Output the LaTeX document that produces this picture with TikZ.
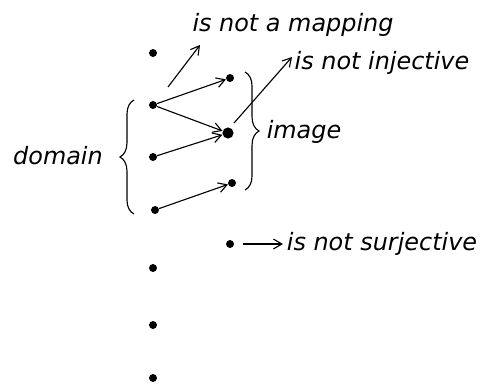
\documentclass[tikz,border=0pt]{standalone}
\usepackage{fontspec}
\setmainfont{DejaVu Sans}
\usetikzlibrary{arrows.meta, decorations.pathreplacing}
\tikzset{
    pt/.style={circle, fill, inner sep=2pt},
    bigpt/.style={circle, fill, inner sep=2.8pt},
    maparrow/.style={-{Straight Barb[length=6pt, width=7pt]}, thick},
    curly/.style={decorate, decoration={brace, amplitude=10pt}, thick},
    hand/.style={font=\fontsize{17}{20}\selectfont\itshape, inner sep=0pt},
}
\begin{document}
\begin{tikzpicture}[x=0.025cm, y=-0.025cm]
    \useasboundingbox (0,0) rectangle (484,389);

    % left column
    \node[pt] (top) at (153,53) {};
    \node[pt] (d1) at (153,105) {};
    \node[pt] (d2) at (153,157) {};
    \node[pt] (d3) at (155,210) {};
    \node[pt] (e1) at (153,268) {};
    \node[pt] (e2) at (153,325) {};
    \node[pt] (e3) at (153,378) {};

    % right column
    \node[pt] (i1) at (230,78) {};
    \node[bigpt] (i2) at (228,133) {};
    \node[pt] (i3) at (232,183) {};
    \node[pt] (lone) at (230,244) {};

    \draw[maparrow] (d1) -- (i1);
    \draw[maparrow] (d1) -- (i2);
    \draw[maparrow] (d2) -- (i2);
    \draw[maparrow] (d3) -- (i3);

    % labels
    \node[hand] (mapping) at (293,25) {is not a mapping};
    \node[hand] (inject) at (382,63) {is not injective};
    \node[hand] (image) at (304,132) {image};
    \node[hand] (domain) at (58,156) {domain};
    \node[hand] (surject) at (382,244) {is not surjective};

    \coordinate (m0) at (168,87);
    \coordinate (m1) at (200,45);
    \coordinate (j0) at (234,123);
    \coordinate (j1) at (292,57);
    \coordinate (s0) at (243,244);
    \coordinate (s1) at (283,244);
    \draw[maparrow] (m0) -- (m1);
    \draw[maparrow] (j0) -- (j1);
    \draw[maparrow] (s0) -- (s1);

    % braces
    \draw[curly] (134,214) -- (134,100);
    \draw[curly] (245,72) -- (245,190);
\end{tikzpicture}
\end{document}
